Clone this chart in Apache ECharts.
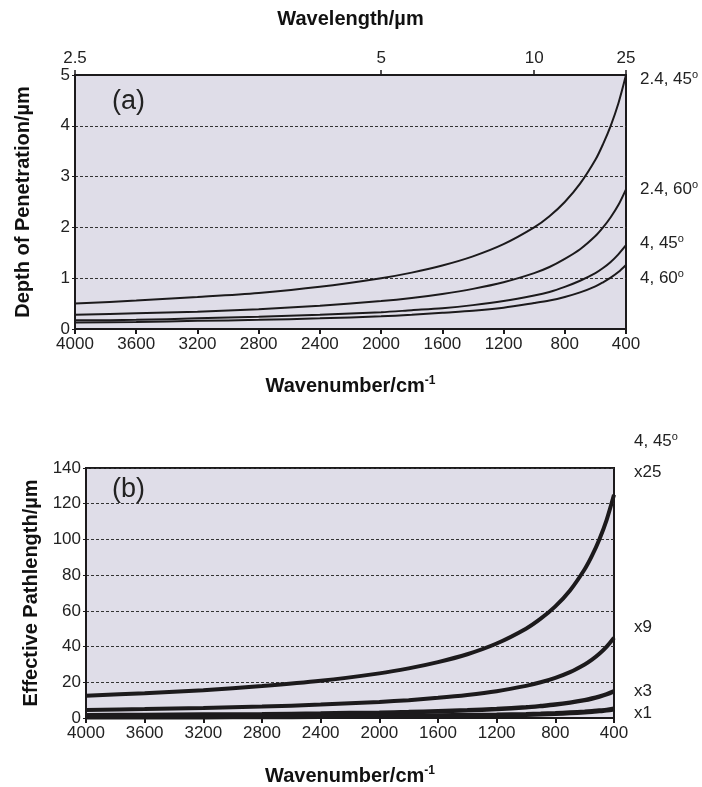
<!DOCTYPE html>
<html>
<head>
<meta charset="utf-8">
<script src="https://cdn.jsdelivr.net/npm/echarts@6/dist/echarts.min.js"></script>
<style>
  html, body { margin: 0; padding: 0; background: #fff; }
  #main { width: 702px; height: 787px; }
</style>
</head>
<body>
<div id="main"></div>
<script>
var myChart = echarts.init(document.getElementById('main'));

var wavenumbers = [4000, 3600, 3200, 2800, 2400, 2000, 1800, 1600, 1400, 1200, 1000, 900, 800, 700, 600, 550, 500, 450, 400];

// (a) depth of penetration, um
var dpZnSe45 = [0.50, 0.56, 0.63, 0.71, 0.83, 1.00, 1.11, 1.25, 1.43, 1.67, 2.00, 2.22, 2.50, 2.86, 3.33, 3.64, 4.00, 4.44, 5.00];
var dpZnSe60 = [0.28, 0.31, 0.34, 0.39, 0.46, 0.55, 0.61, 0.69, 0.79, 0.92, 1.10, 1.22, 1.38, 1.57, 1.83, 2.00, 2.20, 2.44, 2.75];
var dpGe45   = [0.17, 0.18, 0.21, 0.24, 0.28, 0.33, 0.37, 0.41, 0.47, 0.55, 0.66, 0.73, 0.83, 0.95, 1.10, 1.20, 1.32, 1.47, 1.65];
var dpGe60   = [0.13, 0.14, 0.16, 0.18, 0.21, 0.25, 0.28, 0.32, 0.36, 0.42, 0.51, 0.56, 0.63, 0.72, 0.84, 0.92, 1.01, 1.12, 1.26];

// (b) effective pathlength, um (4, 45deg at 25, 9, 3, 1 reflections)
var epX25 = [12.5, 13.9, 15.6, 17.9, 20.8, 25.0, 27.8, 31.3, 35.7, 41.7, 50.0, 55.6, 62.5, 71.4, 83.3, 90.9, 100, 111, 125];
var epX9  = [4.5, 5.0, 5.6, 6.4, 7.5, 9.0, 10.0, 11.3, 12.9, 15.0, 18.0, 20.0, 22.5, 25.7, 30.0, 32.7, 36.0, 40.0, 45.0];
var epX3  = [1.5, 1.7, 1.9, 2.1, 2.5, 3.0, 3.3, 3.8, 4.3, 5.0, 6.0, 6.7, 7.5, 8.6, 10.0, 10.9, 12.0, 13.3, 15.0];
var epX1  = [0.5, 0.56, 0.63, 0.71, 0.83, 1.0, 1.1, 1.25, 1.43, 1.67, 2.0, 2.2, 2.5, 2.9, 3.3, 3.6, 4.0, 4.4, 5.0];

var wavelengthTicks = [2.5, 5, 10, 25];

var FONT = '"Liberation Sans", Arial, sans-serif';
var INK = '#1c1a1c';
var PLOT_BG = '#dfdde8';

function pairs(vals) {
    return wavenumbers.map(function(w, i) { return [w, vals[i]]; });
}

function line(name, vals, xi, width) {
    return {
        name: name,
        type: 'line',
        xAxisIndex: xi,
        yAxisIndex: xi === 0 ? 0 : 1,
        data: pairs(vals),
        smooth: 0.3,
        symbol: 'none',
        lineStyle: { color: INK, width: width },
        silent: true
    };
}

var plain = function(v) { return String(v); };
var axisTitle = {
    rich: {
        a: { fontSize: 20, fontWeight: 'bold', fontFamily: FONT, color: '#111' },
        s: { fontSize: 12, fontWeight: 'bold', fontFamily: FONT, color: '#111', padding: [0, 0, 10, 0] }
    }
};

function wnAxis(grid, gap) {
    return {
        type: 'value',
        gridIndex: grid,
        position: 'bottom',
        min: 400, max: 4000, interval: 400,
        inverse: true,
        name: '{a|Wavenumber/cm}{s|-1}',
        nameLocation: 'middle',
        nameGap: gap,
        nameTextStyle: axisTitle,
        axisLine: { onZero: false, lineStyle: { color: INK, width: 2 } },
        axisTick: { length: 5, lineStyle: { color: INK, width: 2 } },
        axisLabel: { color: '#222', fontSize: 17, fontFamily: FONT, margin: 7, formatter: plain },
        splitLine: { show: false }
    };
}

function valAxis(grid, max, interval, name, gap) {
    return {
        type: 'value',
        gridIndex: grid,
        min: 0, max: max, interval: interval,
        name: name,
        nameLocation: 'middle',
        nameGap: gap,
        nameTextStyle: { fontSize: 20, fontWeight: 'bold', fontFamily: FONT, color: '#111' },
        axisLine: { show: true, lineStyle: { color: INK, width: 2 } },
        axisTick: { show: true, length: 3, lineStyle: { color: INK } },
        axisLabel: { color: '#222', fontSize: 17, fontFamily: FONT, margin: 5, formatter: plain },
        splitLine: { show: true, lineStyle: { color: '#333', width: 1, type: [3, 2] } }
    };
}

function sideText(x, y, txt) {
    return {
        type: 'text', left: x, top: y - 9,
        style: {
            text: txt, fill: '#222', fontSize: 17, fontFamily: FONT,
            rich: { s: { fontSize: 11, fontFamily: FONT, fill: '#222', padding: [0, 0, 9, 0] } }
        }
    };
}

var option = {
    backgroundColor: '#fff',
    animation: false,
    grid: [
        { left: 75, right: 76, top: 75, height: 254, show: true, backgroundColor: PLOT_BG, borderColor: INK, borderWidth: 2 },
        { left: 86, right: 88, top: 468, height: 253, show: true, backgroundColor: PLOT_BG, borderColor: INK, borderWidth: 2 }
    ],
    xAxis: [
        wnAxis(0, 46),
        wnAxis(1, 47),
        {
            type: 'value',
            gridIndex: 0,
            position: 'top',
            min: 400, max: 4000,
            inverse: true,
            name: 'Wavelength/\u00b5m',
            nameLocation: 'middle',
            nameGap: 46,
            nameTextStyle: { fontSize: 20, fontWeight: 'bold', fontFamily: FONT, color: '#111' },
            axisLine: { onZero: false, lineStyle: { color: INK, width: 2 } },
            axisTick: { length: 5, customValues: wavelengthTicks.map(function(l) { return 10000 / l; }), lineStyle: { color: INK, width: 1.5 } },
            axisLabel: {
                color: '#222', fontSize: 17, fontFamily: FONT, margin: 8,
                customValues: wavelengthTicks.map(function(l) { return 10000 / l; }),
                formatter: function(v) { return String(Math.round(100000 / v) / 10); }
            },
            splitLine: { show: false }
        }
    ],
    yAxis: [
        valAxis(0, 5, 1, 'Depth of Penetration/\u00b5m', 42),
        valAxis(1, 140, 20, 'Effective Pathlength/\u00b5m', 45)
    ],
    graphic: [
        { type: 'text', left: 112, top: 88, style: { text: '(a)', fontSize: 27, fontFamily: FONT, fill: '#222' } },
        { type: 'text', left: 112, top: 476, style: { text: '(b)', fontSize: 27, fontFamily: FONT, fill: '#222' } },
        sideText(640, 78, '2.4, 45{s|o}'),
        sideText(640, 188, '2.4, 60{s|o}'),
        sideText(640, 242, '4, 45{s|o}'),
        sideText(640, 277, '4, 60{s|o}'),
        sideText(634, 440, '4, 45{s|o}'),
        sideText(634, 473, 'x25'),
        sideText(634, 628, 'x9'),
        sideText(634, 692, 'x3'),
        sideText(634, 714, 'x1')
    ],
    series: [
        line('2.4, 45', dpZnSe45, 0, 2),
        line('2.4, 60', dpZnSe60, 0, 2),
        line('4, 45', dpGe45, 0, 2),
        line('4, 60', dpGe60, 0, 2),
        line('x25', epX25, 1, 4),
        line('x9', epX9, 1, 4),
        line('x3', epX3, 1, 4.5),
        line('x1', epX1, 1, 5)
    ]
};
myChart.setOption(option);
</script>
</body>
</html>
